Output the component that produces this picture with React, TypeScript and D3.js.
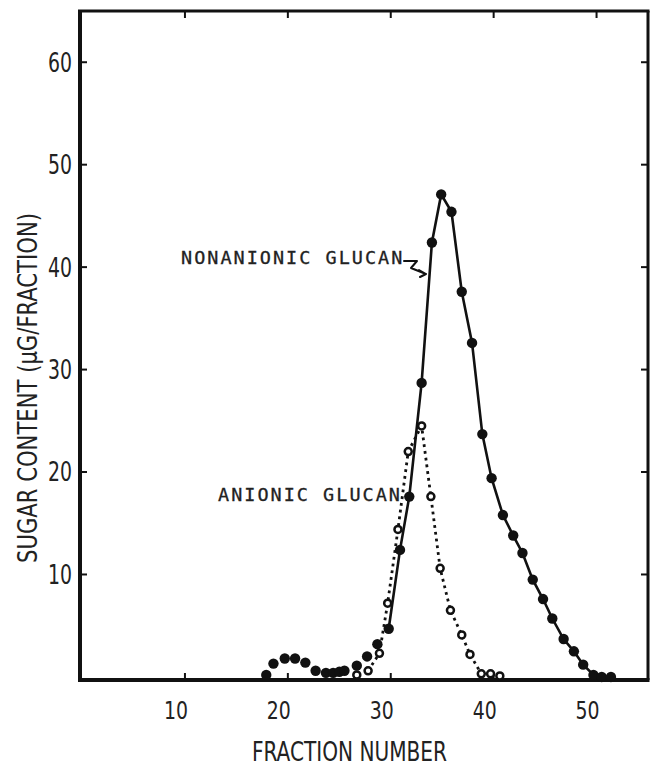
import { useRef, useEffect } from 'react';
import * as d3 from 'd3';

// nonanionic glucan (filled circles, solid line)
const nonanionicFraction = [
  17.9, 18.6, 19.7, 20.7, 21.7, 22.7, 23.7, 24.4, 25.0, 25.5, 26.7, 27.7,
  28.7, 29.8, 30.9, 31.8, 33.0, 34.0, 34.9, 35.9, 36.9, 37.9, 38.9, 39.8,
  40.9, 41.9, 42.8, 43.8, 44.8, 45.7, 46.8, 47.8, 48.7, 49.7, 50.5, 51.4,
];
const nonanionicSugar = [
  0.2, 1.3, 1.8, 1.8, 1.4, 0.6, 0.4, 0.4, 0.5, 0.6, 1.1, 2.0,
  3.2, 4.7, 12.4, 17.6, 28.7, 42.4, 47.1, 45.4, 37.6, 32.6, 23.7, 19.4,
  15.8, 13.8, 12.1, 9.5, 7.6, 5.7, 3.7, 2.5, 1.2, 0.2, 0.0, 0.0,
];
const nonanionicLineFrom = 13;

// anionic glucan (open circles, dotted line)
const anionicFraction = [
  26.7, 27.8, 28.9, 29.7, 30.7, 31.7, 33.0, 33.9, 34.8, 35.8, 36.9, 37.7,
  38.8, 39.7, 40.6,
];
const anionicSugar = [
  0.2, 0.6, 2.3, 7.2, 14.4, 22.0, 24.5, 17.6, 10.6, 6.5, 4.1, 2.2,
  0.3, 0.3, 0.1,
];
const anionicLineFrom = 1;
const anionicLineTo = 12;

const xTicks = [10, 20, 30, 40, 50];
const yTicks = [10, 20, 30, 40, 50, 60];

const W = 658;
const H = 767;
const frame = { left: 80, top: 11, right: 648, bottom: 680 };

const narrow = '"Liberation Sans Narrow", "DejaVu Sans Condensed", "Open Sans", sans-serif';
const mono = '"DejaVu Sans Mono", "Liberation Mono", monospace';
const ink = '#111';

export default function App() {
  const svgRef = useRef<SVGSVGElement>(null);

  useEffect(() => {
    const svg = d3.select(svgRef.current);
    svg.selectAll('*').remove();

    const x = d3.scaleLinear().domain([-0.2, 55]).range([frame.left, frame.right]);
    const y = d3.scaleLinear().domain([-0.3, 65]).range([frame.bottom, frame.top]);

    const g = svg.append('g');

    // inward tick marks on all four sides
    const tickLen = 7;
    xTicks.forEach(t => {
      g.append('line').attr('x1', x(t)).attr('x2', x(t))
        .attr('y1', frame.bottom).attr('y2', frame.bottom - tickLen)
        .attr('stroke', ink).attr('stroke-width', 2);
      g.append('line').attr('x1', x(t)).attr('x2', x(t))
        .attr('y1', frame.top).attr('y2', frame.top + tickLen)
        .attr('stroke', ink).attr('stroke-width', 2);
    });
    yTicks.forEach(t => {
      g.append('line').attr('x1', frame.left).attr('x2', frame.left + tickLen)
        .attr('y1', y(t)).attr('y2', y(t))
        .attr('stroke', ink).attr('stroke-width', 2);
      g.append('line').attr('x1', frame.right).attr('x2', frame.right - tickLen)
        .attr('y1', y(t)).attr('y2', y(t))
        .attr('stroke', ink).attr('stroke-width', 2);
    });

    // frame
    g.append('line').attr('x1', frame.left - 2).attr('x2', frame.right + 1.5)
      .attr('y1', frame.top).attr('y2', frame.top)
      .attr('stroke', ink).attr('stroke-width', 3);
    g.append('line').attr('x1', frame.right).attr('x2', frame.right)
      .attr('y1', frame.top).attr('y2', frame.bottom)
      .attr('stroke', ink).attr('stroke-width', 3);
    g.append('line').attr('x1', frame.left).attr('x2', frame.left)
      .attr('y1', frame.top).attr('y2', frame.bottom + 2)
      .attr('stroke', ink).attr('stroke-width', 4);
    g.append('line').attr('x1', frame.left - 2).attr('x2', frame.right + 1.5)
      .attr('y1', frame.bottom).attr('y2', frame.bottom)
      .attr('stroke', ink).attr('stroke-width', 4);

    // tick labels (condensed, like the typeset originals)
    g.selectAll('.ylab').data(yTicks).join('text')
      .attr('class', 'ylab')
      .attr('x', frame.left - 8)
      .attr('y', d => y(d))
      .attr('dy', '0.35em')
      .attr('text-anchor', 'end')
      .attr('textLength', 24).attr('lengthAdjust', 'spacingAndGlyphs')
      .attr('font-family', narrow)
      .attr('font-size', 27)
      .attr('fill', '#222')
      .text(d => d);

    g.selectAll('.xlab').data(xTicks).join('text')
      .attr('class', 'xlab')
      .attr('x', d => x(d) - 9)
      .attr('y', 719)
      .attr('text-anchor', 'middle')
      .attr('textLength', 24).attr('lengthAdjust', 'spacingAndGlyphs')
      .attr('font-family', narrow)
      .attr('font-size', 25)
      .attr('fill', '#222')
      .text(d => d);

    // axis titles
    g.append('text')
      .attr('x', 252).attr('y', 761)
      .attr('textLength', 195).attr('lengthAdjust', 'spacingAndGlyphs')
      .attr('font-family', narrow).attr('font-size', 26).attr('fill', '#222')
      .text('FRACTION NUMBER');

    g.append('text')
      .attr('transform', 'translate(37,563) rotate(-90)')
      .attr('textLength', 350).attr('lengthAdjust', 'spacingAndGlyphs')
      .attr('font-family', narrow).attr('font-size', 27).attr('fill', '#222')
      .text('SUGAR CONTENT (\u03BCG/FRACTION)');

    const anionic = anionicFraction.map((f, i) => ({ f, v: anionicSugar[i] }));
    const nonanionic = nonanionicFraction.map((f, i) => ({ f, v: nonanionicSugar[i] }));
    const line = d3.line<{ f: number; v: number }>().x(d => x(d.f)).y(d => y(d.v));

    // anionic: dotted line
    g.append('path')
      .attr('d', line(anionic.slice(anionicLineFrom, anionicLineTo + 1)))
      .attr('fill', 'none')
      .attr('stroke', ink)
      .attr('stroke-width', 2.8)
      .attr('stroke-dasharray', '2.8,4');

    // nonanionic: solid line
    g.append('path')
      .attr('d', line(nonanionic.slice(nonanionicLineFrom)))
      .attr('fill', 'none')
      .attr('stroke', ink)
      .attr('stroke-width', 2.6);

    g.selectAll('.open').data(anionic).join('circle')
      .attr('class', 'open')
      .attr('cx', d => x(d.f)).attr('cy', d => y(d.v))
      .attr('r', 3.5)
      .attr('fill', 'white')
      .attr('stroke', ink)
      .attr('stroke-width', 2.5);

    g.selectAll('.filled').data(nonanionic).join('circle')
      .attr('class', 'filled')
      .attr('cx', d => x(d.f)).attr('cy', d => y(d.v))
      .attr('r', 5.2)
      .attr('fill', ink);

    // annotations
    g.append('text')
      .attr('x', 181).attr('y', 264)
      .attr('font-family', mono).attr('font-size', 18.5)
      .attr('letter-spacing', 2).attr('fill', '#222')
      .attr('stroke', '#222').attr('stroke-width', 0.3)
      .text('NONANIONIC GLUCAN');

    g.append('text')
      .attr('x', 218).attr('y', 501)
      .attr('font-family', mono).attr('font-size', 18.5)
      .attr('letter-spacing', 2).attr('fill', '#222')
      .attr('stroke', '#222').attr('stroke-width', 0.3)
      .text('ANIONIC GLUCAN');

    // squiggle arrow to the nonanionic curve
    g.append('path')
      .attr('d', 'M404,261 L417,261 L411,268 L426,274 M426,274 L419,270 M426,274 L420,277')
      .attr('fill', 'none')
      .attr('stroke', ink)
      .attr('stroke-width', 2)
      .attr('stroke-linejoin', 'round')
      .attr('stroke-linecap', 'round');
  }, []);

  return (
    <div style={{ position: 'fixed', left: 0, top: 0, width: W, height: H, background: 'white' }}>
      <svg ref={svgRef} width={W} height={H} style={{ display: 'block' }} />
    </div>
  );
}
